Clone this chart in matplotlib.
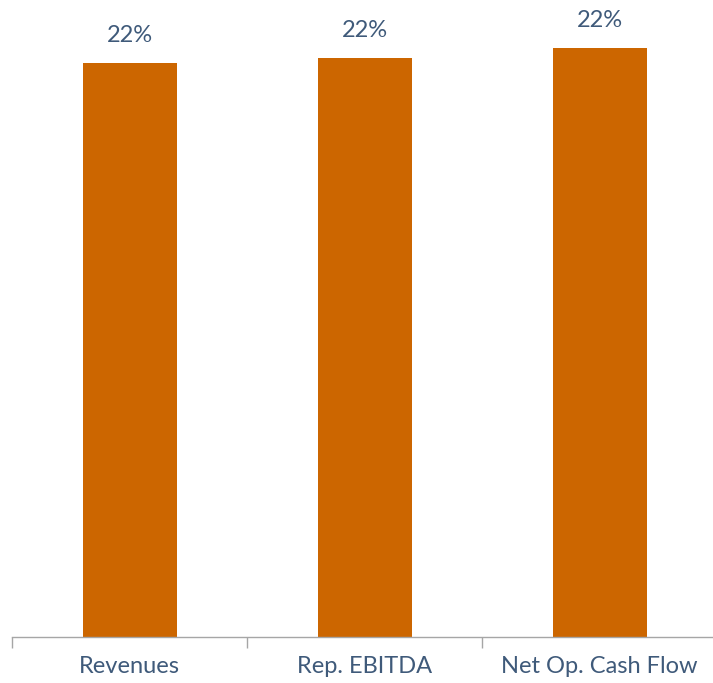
import numpy as np
import matplotlib.pyplot as plt

# ================= data =================
categories = ['Revenues', 'Rep. EBITDA', 'Net Op. Cash Flow']
values = [0.2155, 0.2173, 0.2210]          # bar heights (shown rounded)
labels = ['22%', '22%', '22%']

bar_color = '#CC6600'
text_color = '#3F5A7A'
axis_color = '#A6A6A6'

plt.rcParams['font.family'] = ['Lato', 'DejaVu Sans']

fig = plt.figure(figsize=(7.13, 6.83), dpi=100)
ax = fig.add_axes([12/713, 1 - 637/683, 705/713, 637/683])

x = np.arange(len(categories))
bars = ax.bar(x, values, width=0.4, color=bar_color)

for b, lab in zip(bars, labels):
    ax.annotate(lab, (b.get_x() + b.get_width()/2, b.get_height()),
                xytext=(0, 20), textcoords='offset points',
                ha='center', va='center', fontsize=17, color=text_color)

ax.set_xlim(-0.5, len(categories) - 0.5)
ax.set_ylim(0, 0.2392)

# category boundary ticks (major), labels on minor ticks at centres
ax.set_xticks(np.arange(-0.5, len(categories)))
ax.set_xticklabels([])
ax.set_xticks(x, minor=True)
ax.set_xticklabels(categories, minor=True, fontsize=17, color=text_color)
ax.tick_params(axis='x', which='major', length=8, color=axis_color, width=1)
ax.tick_params(axis='x', which='minor', length=0, pad=14)
ax.set_yticks([])

for s in ['top', 'right', 'left']:
    ax.spines[s].set_visible(False)
ax.spines['bottom'].set_color(axis_color)
ax.spines['bottom'].set_linewidth(1)

fig.savefig('out.png', dpi=100)
